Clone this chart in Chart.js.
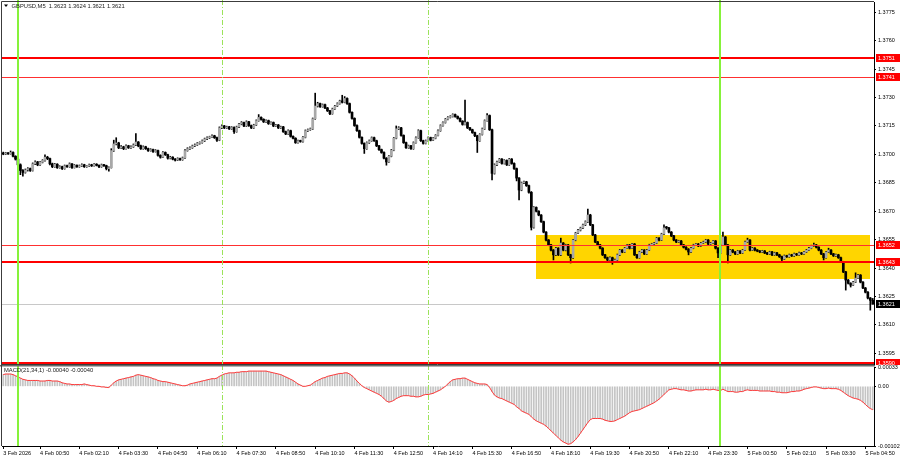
<!DOCTYPE html>
<html><head><meta charset="utf-8">
<script src="https://cdn.jsdelivr.net/npm/chart.js@4.4.1/dist/chart.umd.min.js"></script>
<style>
html,body{margin:0;padding:0;background:#fff;}
#wrap{position:relative;width:900px;height:460px;overflow:hidden;background:#fff;}
canvas{position:absolute;left:0;}
</style></head><body>
<div id="wrap">
<canvas id="main" width="900" height="365" style="top:0;width:900px;height:365px"></canvas>
<canvas id="macd" width="900" height="95" style="top:365px;width:900px;height:95px"></canvas>
</div>
<script>
// ---- DATA (GBPUSD M5, one entry per bar) ----
const openPrices = [
1.37005,1.37002,1.37008,1.37003,1.37010,1.36990,1.36975,1.36945,1.36915,1.36905,
1.36918,1.36925,1.36915,1.36950,1.36960,1.36945,1.36958,1.36968,1.36985,1.36978,
1.36950,1.36935,1.36948,1.36930,1.36935,1.36925,1.36940,1.36935,1.36950,1.36930,
1.36942,1.36935,1.36940,1.36945,1.36935,1.36938,1.36945,1.36940,1.36948,1.36942,
1.36935,1.36945,1.36940,1.36925,1.36930,1.37020,1.37055,1.37060,1.37035,1.37040,
1.37030,1.37045,1.37035,1.37040,1.37050,1.37065,1.37045,1.37030,1.37040,1.37030,
1.37020,1.37025,1.37015,1.37020,1.36995,1.36985,1.37010,1.36998,1.36980,1.36985,
1.36975,1.36970,1.36978,1.36972,1.36982,1.37020,1.37030,1.37035,1.37045,1.37050,
1.37058,1.37062,1.37072,1.37082,1.37088,1.37092,1.37098,1.37088,1.37075,1.37140,
1.37150,1.37140,1.37145,1.37135,1.37142,1.37120,1.37145,1.37160,1.37168,1.37150,
1.37172,1.37152,1.37140,1.37155,1.37178,1.37195,1.37185,1.37172,1.37178,1.37162,
1.37168,1.37150,1.37155,1.37140,1.37145,1.37120,1.37108,1.37125,1.37095,1.37085,
1.37062,1.37072,1.37068,1.37090,1.37125,1.37130,1.37135,1.37188,1.37255,1.37268,
1.37252,1.37262,1.37245,1.37230,1.37215,1.37240,1.37255,1.37268,1.37282,1.37275,
1.37295,1.37268,1.37222,1.37190,1.37152,1.37125,1.37090,1.37058,1.37030,1.37062,
1.37072,1.37088,1.37072,1.37045,1.37025,1.37010,1.36980,1.36960,1.36990,1.37022,
1.37085,1.37135,1.37140,1.37100,1.37062,1.37035,1.37045,1.37030,1.37062,1.37088,
1.37125,1.37072,1.37058,1.37072,1.37088,1.37075,1.37085,1.37100,1.37125,1.37152,
1.37168,1.37185,1.37195,1.37200,1.37210,1.37200,1.37190,1.37175,1.37158,1.37168,
1.37140,1.37130,1.37115,1.37098,1.37072,1.37105,1.37135,1.37178,1.37205,1.37130,
1.36900,1.36945,1.36960,1.36975,1.36952,1.36968,1.36945,1.36975,1.36952,1.36925,
1.36875,1.36812,1.36850,1.36855,1.36835,1.36800,1.36615,1.36720,1.36700,1.36680,
1.36645,1.36590,1.36548,1.36522,1.36495,1.36470,1.36505,1.36470,1.36532,1.36495,
1.36522,1.36470,1.36455,1.36548,1.36585,1.36600,1.36612,1.36628,1.36645,1.36680,
1.36628,1.36575,1.36538,1.36522,1.36505,1.36470,1.36455,1.36443,1.36455,1.36433,
1.36443,1.36470,1.36495,1.36485,1.36505,1.36522,1.36505,1.36527,1.36470,1.36455,
1.36485,1.36495,1.36475,1.36495,1.36522,1.36527,1.36532,1.36558,1.36548,1.36580,
1.36612,1.36612,1.36590,1.36570,1.36548,1.36538,1.36543,1.36522,1.36510,1.36500,
1.36485,1.36505,1.36522,1.36527,1.36517,1.36532,1.36538,1.36548,1.36527,1.36532,
1.36543,1.36505,1.36480,1.36522,1.36564,1.36522,1.36470,1.36495,1.36485,1.36475,
1.36490,1.36480,1.36495,1.36538,1.36548,1.36495,1.36505,1.36495,1.36490,1.36485,
1.36490,1.36480,1.36475,1.36485,1.36470,1.36480,1.36470,1.36460,1.36448,1.36465,
1.36460,1.36470,1.36465,1.36475,1.36470,1.36480,1.36475,1.36485,1.36495,1.36505,
1.36517,1.36522,1.36510,1.36495,1.36475,1.36455,1.36485,1.36495,1.36475,1.36465,
1.36470,1.36455,1.36433,1.36380,1.36337,1.36320,1.36310,1.36326,1.36347,1.36363,
1.36326,1.36295,1.36273,1.36242,1.36230];
const highPrices = [
1.37012,1.37011,1.37010,1.37018,1.37013,1.36993,1.36978,1.36950,1.36920,1.36923,
1.36930,1.36928,1.36955,1.36966,1.36963,1.36962,1.36972,1.36997,1.36990,1.36981,
1.36954,1.36952,1.36951,1.36940,1.36938,1.36944,1.36943,1.36955,1.36952,1.36946,
1.36945,1.36944,1.36950,1.36948,1.36942,1.36949,1.36948,1.36952,1.36951,1.36945,
1.36949,1.36947,1.36943,1.36934,1.37030,1.37075,1.37088,1.37064,1.37046,1.37043,
1.37050,1.37048,1.37045,1.37055,1.37110,1.37068,1.37049,1.37045,1.37043,1.37033,
1.37030,1.37028,1.37025,1.37023,1.36998,1.37015,1.37013,1.37001,1.36990,1.36988,
1.36978,1.36982,1.36981,1.36986,1.37025,1.37035,1.37040,1.37049,1.37055,1.37062,
1.37066,1.37076,1.37086,1.37092,1.37096,1.37103,1.37101,1.37091,1.37145,1.37156,
1.37153,1.37149,1.37148,1.37146,1.37145,1.37149,1.37164,1.37173,1.37171,1.37177,
1.37175,1.37155,1.37159,1.37182,1.37210,1.37198,1.37188,1.37182,1.37181,1.37172,
1.37171,1.37159,1.37158,1.37149,1.37148,1.37123,1.37129,1.37128,1.37098,1.37088,
1.37076,1.37075,1.37094,1.37129,1.37134,1.37139,1.37192,1.37323,1.37275,1.37271,
1.37266,1.37265,1.37248,1.37233,1.37244,1.37259,1.37272,1.37286,1.37312,1.37305,
1.37298,1.37271,1.37225,1.37193,1.37156,1.37128,1.37093,1.37061,1.37066,1.37076,
1.37092,1.37091,1.37075,1.37048,1.37028,1.37013,1.36983,1.36994,1.37026,1.37089,
1.37150,1.37146,1.37143,1.37103,1.37065,1.37049,1.37048,1.37066,1.37092,1.37130,
1.37128,1.37075,1.37076,1.37092,1.37091,1.37089,1.37104,1.37129,1.37156,1.37172,
1.37189,1.37199,1.37204,1.37214,1.37213,1.37203,1.37193,1.37178,1.37287,1.37171,
1.37143,1.37133,1.37118,1.37101,1.37109,1.37139,1.37182,1.37215,1.37208,1.37133,
1.36950,1.36964,1.36979,1.36978,1.36972,1.36971,1.36979,1.36978,1.36955,1.36928,
1.36878,1.36854,1.36859,1.36858,1.36838,1.36804,1.36724,1.36723,1.36703,1.36683,
1.36648,1.36593,1.36551,1.36525,1.36498,1.36509,1.36508,1.36558,1.36535,1.36526,
1.36525,1.36473,1.36552,1.36589,1.36604,1.36616,1.36632,1.36649,1.36712,1.36684,
1.36631,1.36578,1.36541,1.36525,1.36508,1.36473,1.36458,1.36459,1.36458,1.36447,
1.36474,1.36499,1.36498,1.36509,1.36526,1.36525,1.36531,1.36530,1.36473,1.36489,
1.36499,1.36498,1.36499,1.36526,1.36531,1.36536,1.36562,1.36561,1.36584,1.36628,
1.36620,1.36615,1.36593,1.36573,1.36551,1.36547,1.36546,1.36525,1.36513,1.36503,
1.36509,1.36526,1.36531,1.36530,1.36536,1.36542,1.36552,1.36551,1.36536,1.36547,
1.36546,1.36508,1.36526,1.36590,1.36567,1.36525,1.36499,1.36498,1.36488,1.36494,
1.36493,1.36499,1.36542,1.36558,1.36551,1.36509,1.36508,1.36498,1.36493,1.36494,
1.36493,1.36483,1.36489,1.36488,1.36484,1.36483,1.36473,1.36463,1.36469,1.36468,
1.36474,1.36473,1.36479,1.36478,1.36484,1.36483,1.36489,1.36499,1.36509,1.36521,
1.36532,1.36525,1.36513,1.36498,1.36478,1.36489,1.36505,1.36498,1.36478,1.36474,
1.36473,1.36458,1.36436,1.36383,1.36340,1.36323,1.36330,1.36375,1.36367,1.36366,
1.36329,1.36298,1.36276,1.36245,1.36240];
const lowPrices = [
1.36998,1.36999,1.37000,1.37001,1.36986,1.36970,1.36940,1.36893,1.36885,1.36901,
1.36912,1.36910,1.36912,1.36946,1.36940,1.36942,1.36955,1.36964,1.36972,1.36945,
1.36930,1.36932,1.36926,1.36927,1.36920,1.36922,1.36931,1.36932,1.36926,1.36928,
1.36931,1.36932,1.36937,1.36931,1.36932,1.36935,1.36936,1.36938,1.36939,1.36930,
1.36932,1.36936,1.36918,1.36912,1.36928,1.37016,1.37050,1.37030,1.37031,1.37025,
1.37027,1.37031,1.37032,1.37037,1.37046,1.37040,1.37026,1.37027,1.37026,1.37015,
1.37017,1.37010,1.37012,1.36990,1.36980,1.36982,1.36994,1.36975,1.36976,1.36971,
1.36965,1.36967,1.36968,1.36969,1.36979,1.37017,1.37026,1.37032,1.37041,1.37047,
1.37054,1.37059,1.37068,1.37078,1.37084,1.37089,1.37084,1.37068,1.37072,1.37136,
1.37136,1.37137,1.37131,1.37132,1.37110,1.37117,1.37141,1.37156,1.37146,1.37147,
1.37148,1.37136,1.37137,1.37152,1.37175,1.37181,1.37168,1.37169,1.37158,1.37159,
1.37146,1.37147,1.37136,1.37137,1.37116,1.37104,1.37105,1.37091,1.37081,1.37058,
1.37059,1.37064,1.37065,1.37087,1.37121,1.37127,1.37132,1.37185,1.37250,1.37248,
1.37249,1.37241,1.37226,1.37210,1.37212,1.37237,1.37252,1.37265,1.37271,1.37272,
1.37264,1.37218,1.37186,1.37148,1.37121,1.37086,1.37054,1.37005,1.37027,1.37058,
1.37069,1.37068,1.37041,1.37021,1.37006,1.36976,1.36943,1.36957,1.36987,1.37019,
1.37082,1.37131,1.37096,1.37058,1.37031,1.37032,1.37026,1.37027,1.37059,1.37085,
1.37068,1.37054,1.37055,1.37069,1.37071,1.37072,1.37082,1.37097,1.37122,1.37149,
1.37165,1.37182,1.37192,1.37197,1.37196,1.37186,1.37171,1.37154,1.37155,1.37136,
1.37126,1.37111,1.37094,1.37010,1.37069,1.37102,1.37132,1.37175,1.37126,1.36865,
1.36896,1.36941,1.36957,1.36948,1.36949,1.36941,1.36942,1.36948,1.36921,1.36860,
1.36760,1.36808,1.36846,1.36831,1.36796,1.36601,1.36611,1.36696,1.36676,1.36641,
1.36586,1.36544,1.36518,1.36491,1.36443,1.36466,1.36466,1.36466,1.36491,1.36491,
1.36466,1.36427,1.36451,1.36544,1.36581,1.36596,1.36608,1.36624,1.36641,1.36624,
1.36571,1.36534,1.36518,1.36501,1.36466,1.36451,1.36439,1.36440,1.36420,1.36430,
1.36440,1.36466,1.36481,1.36482,1.36502,1.36501,1.36502,1.36466,1.36451,1.36452,
1.36482,1.36471,1.36472,1.36492,1.36519,1.36524,1.36529,1.36544,1.36545,1.36577,
1.36605,1.36586,1.36566,1.36544,1.36534,1.36535,1.36518,1.36506,1.36496,1.36470,
1.36482,1.36502,1.36519,1.36513,1.36514,1.36529,1.36535,1.36523,1.36524,1.36529,
1.36501,1.36455,1.36477,1.36519,1.36518,1.36427,1.36467,1.36481,1.36471,1.36472,
1.36476,1.36477,1.36492,1.36535,1.36491,1.36492,1.36491,1.36486,1.36481,1.36482,
1.36476,1.36471,1.36472,1.36466,1.36467,1.36466,1.36456,1.36438,1.36445,1.36456,
1.36457,1.36461,1.36462,1.36466,1.36467,1.36471,1.36472,1.36482,1.36492,1.36502,
1.36514,1.36506,1.36491,1.36471,1.36443,1.36452,1.36482,1.36471,1.36461,1.36462,
1.36451,1.36429,1.36376,1.36284,1.36316,1.36300,1.36307,1.36323,1.36344,1.36322,
1.36291,1.36269,1.36238,1.36178,1.36210];
const closePrices = [
1.37002,1.37008,1.37003,1.37010,1.36990,1.36975,1.36945,1.36915,1.36905,1.36918,
1.36925,1.36915,1.36950,1.36960,1.36945,1.36958,1.36968,1.36985,1.36978,1.36950,
1.36935,1.36948,1.36930,1.36935,1.36925,1.36940,1.36935,1.36950,1.36930,1.36942,
1.36935,1.36940,1.36945,1.36935,1.36938,1.36945,1.36940,1.36948,1.36942,1.36935,
1.36945,1.36940,1.36925,1.36930,1.37020,1.37055,1.37060,1.37035,1.37040,1.37030,
1.37045,1.37035,1.37040,1.37050,1.37065,1.37045,1.37030,1.37040,1.37030,1.37020,
1.37025,1.37015,1.37020,1.36995,1.36985,1.37010,1.36998,1.36980,1.36985,1.36975,
1.36970,1.36978,1.36972,1.36982,1.37020,1.37030,1.37035,1.37045,1.37050,1.37058,
1.37062,1.37072,1.37082,1.37088,1.37092,1.37098,1.37088,1.37075,1.37140,1.37150,
1.37140,1.37145,1.37135,1.37142,1.37120,1.37145,1.37160,1.37168,1.37150,1.37172,
1.37152,1.37140,1.37155,1.37178,1.37195,1.37185,1.37172,1.37178,1.37162,1.37168,
1.37150,1.37155,1.37140,1.37145,1.37120,1.37108,1.37125,1.37095,1.37085,1.37062,
1.37072,1.37068,1.37090,1.37125,1.37130,1.37135,1.37188,1.37255,1.37268,1.37252,
1.37262,1.37245,1.37230,1.37215,1.37240,1.37255,1.37268,1.37282,1.37275,1.37295,
1.37268,1.37222,1.37190,1.37152,1.37125,1.37090,1.37058,1.37030,1.37062,1.37072,
1.37088,1.37072,1.37045,1.37025,1.37010,1.36980,1.36960,1.36990,1.37022,1.37085,
1.37135,1.37140,1.37100,1.37062,1.37035,1.37045,1.37030,1.37062,1.37088,1.37125,
1.37072,1.37058,1.37072,1.37088,1.37075,1.37085,1.37100,1.37125,1.37152,1.37168,
1.37185,1.37195,1.37200,1.37210,1.37200,1.37190,1.37175,1.37158,1.37168,1.37140,
1.37130,1.37115,1.37098,1.37072,1.37105,1.37135,1.37178,1.37205,1.37130,1.36900,
1.36945,1.36960,1.36975,1.36952,1.36968,1.36945,1.36975,1.36952,1.36925,1.36875,
1.36812,1.36850,1.36855,1.36835,1.36800,1.36615,1.36720,1.36700,1.36680,1.36645,
1.36590,1.36548,1.36522,1.36495,1.36470,1.36505,1.36470,1.36532,1.36495,1.36522,
1.36470,1.36455,1.36548,1.36585,1.36600,1.36612,1.36628,1.36645,1.36680,1.36628,
1.36575,1.36538,1.36522,1.36505,1.36470,1.36455,1.36443,1.36455,1.36433,1.36443,
1.36470,1.36495,1.36485,1.36505,1.36522,1.36505,1.36527,1.36470,1.36455,1.36485,
1.36495,1.36475,1.36495,1.36522,1.36527,1.36532,1.36558,1.36548,1.36580,1.36612,
1.36612,1.36590,1.36570,1.36548,1.36538,1.36543,1.36522,1.36510,1.36500,1.36485,
1.36505,1.36522,1.36527,1.36517,1.36532,1.36538,1.36548,1.36527,1.36532,1.36543,
1.36505,1.36480,1.36522,1.36564,1.36522,1.36470,1.36495,1.36485,1.36475,1.36490,
1.36480,1.36495,1.36538,1.36548,1.36495,1.36505,1.36495,1.36490,1.36485,1.36490,
1.36480,1.36475,1.36485,1.36470,1.36480,1.36470,1.36460,1.36448,1.36465,1.36460,
1.36470,1.36465,1.36475,1.36470,1.36480,1.36475,1.36485,1.36495,1.36505,1.36517,
1.36522,1.36510,1.36495,1.36475,1.36455,1.36485,1.36495,1.36475,1.36465,1.36470,
1.36455,1.36433,1.36380,1.36337,1.36320,1.36310,1.36326,1.36347,1.36363,1.36326,
1.36295,1.36273,1.36242,1.36230,1.36210];
// MACD(21,34,1) main value per bar (signal SMA(1) equals it)
const macdValues = [
0.00020,0.00021,0.00021,0.00021,0.00020,0.00018,0.00016,0.00014,0.00012,0.00011,
0.00010,0.00010,0.00010,0.00010,0.00010,0.00009,0.00009,0.00009,0.00010,0.00010,
0.00009,0.00009,0.00009,0.00008,0.00006,0.00005,0.00004,0.00004,0.00003,0.00003,
0.00003,0.00003,0.00003,0.00004,0.00003,0.00002,0.00001,0.00001,0,0,
-0.00001,-0.00001,-0.00002,-0.00002,0.00002,0.00006,0.00009,0.00011,0.00012,0.00013,
0.00014,0.00015,0.00016,0.00017,0.00019,0.00020,0.00019,0.00018,0.00017,0.00016,
0.00015,0.00013,0.00012,0.00010,0.00009,0.00008,0.00008,0.00007,0.00006,0.00005,
0.00004,0.00003,0.00002,0.00001,0.00001,0.00002,0.00004,0.00005,0.00006,0.00007,
0.00008,0.00009,0.00010,0.00011,0.00012,0.00013,0.00013,0.00014,0.00017,0.00019,
0.00021,0.00022,0.00023,0.00023,0.00023,0.00024,0.00024,0.00025,0.00025,0.00025,
0.00026,0.00026,0.00026,0.00026,0.00026,0.00026,0.00026,0.00026,0.00025,0.00024,
0.00023,0.00022,0.00021,0.00020,0.00018,0.00016,0.00014,0.00012,0.00010,0.00007,
0.00004,0.00002,0,0,0.00001,0.00002,0.00005,0.00008,0.00010,0.00012,
0.00014,0.00015,0.00017,0.00018,0.00019,0.00020,0.00021,0.00022,0.00022,0.00023,
0.00023,0.00021,0.00018,0.00014,0.00009,0.00005,0.00001,-0.00002,-0.00004,-0.00006,
-0.00008,-0.00010,-0.00012,-0.00014,-0.00017,-0.00021,-0.00025,-0.00027,-0.00026,-0.00024,
-0.00021,-0.00019,-0.00017,-0.00016,-0.00016,-0.00016,-0.00017,-0.00017,-0.00018,-0.00018,
-0.00017,-0.00015,-0.00014,-0.00014,-0.00013,-0.00012,-0.00010,-0.00008,-0.00006,-0.00003,
0,0.00004,0.00008,0.00011,0.00012,0.00013,0.00013,0.00014,0.00014,0.00012,
0.00010,0.00008,0.00006,0.00005,0.00004,0.00004,0.00004,0.00003,-0.00002,-0.00009,
-0.00015,-0.00018,-0.00020,-0.00021,-0.00023,-0.00025,-0.00027,-0.00029,-0.00031,-0.00035,
-0.00038,-0.00042,-0.00044,-0.00046,-0.00048,-0.00052,-0.00056,-0.00059,-0.00061,-0.00063,
-0.00065,-0.00068,-0.00072,-0.00076,-0.00080,-0.00084,-0.00088,-0.00092,-0.00095,-0.00097,
-0.00099,-0.00098,-0.00095,-0.00091,-0.00086,-0.00080,-0.00074,-0.00068,-0.00062,-0.00057,
-0.00055,-0.00055,-0.00055,-0.00055,-0.00056,-0.00058,-0.00059,-0.00060,-0.00060,-0.00059,
-0.00057,-0.00055,-0.00053,-0.00051,-0.00048,-0.00045,-0.00043,-0.00042,-0.00041,-0.00040,
-0.00038,-0.00036,-0.00034,-0.00032,-0.00030,-0.00028,-0.00025,-0.00022,-0.00018,-0.00014,
-0.00010,-0.00006,-0.00005,-0.00004,-0.00004,-0.00005,-0.00006,-0.00006,-0.00007,-0.00008,
-0.00008,-0.00007,-0.00006,-0.00006,-0.00006,-0.00006,-0.00005,-0.00006,-0.00006,-0.00005,
-0.00006,-0.00007,-0.00007,-0.00005,-0.00007,-0.00009,-0.00009,-0.00009,-0.00010,-0.00010,
-0.00009,-0.00009,-0.00007,-0.00006,-0.00007,-0.00007,-0.00007,-0.00007,-0.00008,-0.00008,
-0.00008,-0.00008,-0.00008,-0.00009,-0.00009,-0.00010,-0.00010,-0.00011,-0.00011,-0.00011,
-0.00010,-0.00009,-0.00009,-0.00008,-0.00008,-0.00007,-0.00005,-0.00004,-0.00003,-0.00002,
-0.00001,-0.00001,-0.00002,-0.00003,-0.00004,-0.00004,-0.00003,-0.00004,-0.00004,-0.00004,
-0.00005,-0.00007,-0.00010,-0.00013,-0.00016,-0.00018,-0.00020,-0.00021,-0.00022,-0.00024,
-0.00027,-0.00031,-0.00035,-0.00038,-0.00040];

const timeTicks = ['3 Feb 2026','4 Feb 00:50','4 Feb 02:10','4 Feb 03:30','4 Feb 04:50','4 Feb 06:10','4 Feb 07:30','4 Feb 08:50','4 Feb 10:10','4 Feb 11:30','4 Feb 12:50','4 Feb 14:10','4 Feb 15:30','4 Feb 16:50','4 Feb 18:10','4 Feb 19:30','4 Feb 20:50','4 Feb 22:10','4 Feb 23:30','5 Feb 00:50','5 Feb 02:10','5 Feb 03:30','5 Feb 04:50'];
const timeTickBars = [0,15,31,47,63,79,95,111,127,143,159,175,191,207,223,239,255,271,287,303,319,335,351];
const priceTicks = [1.3775,1.3760,1.3745,1.3730,1.3715,1.3700,1.3685,1.3670,1.3655,1.3640,1.3625,1.3610,1.3595];
const priceRange = [1.35894, 1.37804];
const macdTicks = [0.00033, 0, -0.00102];
const macdRange = [-0.00102, 0.00033];
const levelPrices = [1.3751, 1.3741, 1.3652, 1.3643, 1.3590];
const levelWidths = [2, 1, 1, 2, 2];
const currentPrice = closePrices[closePrices.length - 1];
const zonePrices = [1.36575, 1.36343];
const zoneBars = [217, 353];
const solidLineBars = [6, 292];
const dashLineBars = [89, 173];

// ---- RENDERING ----
Chart.defaults.font.family = '"Liberation Sans", Arial, sans-serif';
Chart.defaults.color = '#000';
const AXIS_FONT = {size: 5.5};
const barIdx = closePrices.map((_, i) => i);
const fmt4 = v => v.toFixed(4);

function drawVerticals(chart, y0, y1) {
  const {ctx, scales: {x}} = chart;
  ctx.save();
  solidLineBars.forEach(b => {
    const px = Math.round(x.getPixelForValue(b));
    ctx.strokeStyle = '#86f23a'; ctx.lineWidth = 2; ctx.setLineDash([]);
    ctx.beginPath(); ctx.moveTo(px, y0); ctx.lineTo(px, y1); ctx.stroke();
  });
  dashLineBars.forEach(b => {
    const px = Math.round(x.getPixelForValue(b)) + 0.5;
    ctx.strokeStyle = '#9be35a'; ctx.lineWidth = 1; ctx.setLineDash([5, 2, 1, 2]);
    ctx.beginPath(); ctx.moveTo(px, y0); ctx.lineTo(px, y1); ctx.stroke();
  });
  ctx.restore();
}

const mainDecor = {
  id: 'mainDecor',
  beforeDatasetsDraw(chart) {
    const {ctx, chartArea: a, scales: {x, y}} = chart;
    ctx.save();
    ctx.beginPath(); ctx.rect(a.left, a.top, a.right - a.left, a.bottom - a.top); ctx.clip();
    const zx1 = x.getPixelForValue(zoneBars[0]), zx2 = x.getPixelForValue(zoneBars[1]);
    const zy1 = y.getPixelForValue(zonePrices[0]), zy2 = y.getPixelForValue(zonePrices[1]);
    ctx.fillStyle = '#ffd500';
    ctx.fillRect(Math.round(zx1), Math.round(zy1), Math.round(zx2 - zx1), Math.round(zy2 - zy1));
    const cy = Math.round(y.getPixelForValue(currentPrice)) + 0.5;
    ctx.strokeStyle = '#c8c8c8'; ctx.lineWidth = 1;
    ctx.beginPath(); ctx.moveTo(a.left, cy); ctx.lineTo(a.right, cy); ctx.stroke();
    ctx.restore();
  },
  afterDatasetsDraw(chart) {
    const {ctx, chartArea: a, scales: {y}} = chart;
    ctx.save();
    ctx.beginPath(); ctx.rect(a.left, a.top, a.right - a.left, a.bottom - a.top); ctx.clip();
    levelPrices.forEach((p, k) => {
      const w = levelWidths[k];
      const py = w === 1 ? Math.round(y.getPixelForValue(p)) + 0.5 : Math.round(y.getPixelForValue(p));
      ctx.strokeStyle = w === 1 ? '#ff3030' : '#ff0000'; ctx.lineWidth = w;
      ctx.beginPath(); ctx.moveTo(a.left, py); ctx.lineTo(a.right, py); ctx.stroke();
    });
    ctx.restore();
    drawVerticals(chart, 0, chart.height);
  },
  afterDraw(chart) {
    const {ctx, chartArea: a, scales: {y}} = chart;
    ctx.save();
    // frame
    ctx.strokeStyle = '#3c3c3c'; ctx.lineWidth = 1;
    ctx.beginPath();
    ctx.moveTo(a.left - 0.5, a.bottom); ctx.lineTo(a.left - 0.5, a.top - 0.5); ctx.lineTo(a.right, a.top - 0.5);
    ctx.stroke();
    ctx.beginPath(); ctx.moveTo(a.left - 1, a.bottom + 0.5); ctx.lineTo(a.right, a.bottom + 0.5); ctx.stroke();
    // price tags
    ctx.font = '5.5px "Liberation Sans", Arial, sans-serif';
    ctx.textBaseline = 'middle'; ctx.textAlign = 'left';
    const tag = (p, bg) => {
      const ty = Math.round(y.getPixelForValue(p));
      ctx.fillStyle = bg; ctx.fillRect(a.right + 2, ty - 4, 24, 8);
      ctx.fillStyle = '#fff'; ctx.fillText(fmt4(p), a.right + 4, ty + 0.5);
    };
    levelPrices.forEach(p => tag(p, '#ff0000'));
    tag(currentPrice, '#000');
    // title
    ctx.fillStyle = '#000';
    ctx.beginPath(); ctx.moveTo(4, 4.5); ctx.lineTo(8, 4.5); ctx.lineTo(6, 7); ctx.closePath(); ctx.fill();
    const n = closePrices.length - 1;
    ctx.fillStyle = '#222';
    ctx.font = '5.8px "Liberation Sans", Arial, sans-serif';
    ctx.fillText('GBPUSD,M5  ' + [openPrices[n], highPrices[n], lowPrices[n], closePrices[n]].map(fmt4).join(' '), 11.5, 6.5);
    ctx.restore();
  }
};

const macdDecor = {
  id: 'macdDecor',
  afterDatasetsDraw(chart) {
    drawVerticals(chart, 0, chart.chartArea.bottom);
  },
  afterDraw(chart) {
    const {ctx, chartArea: a} = chart;
    ctx.save();
    ctx.fillStyle = '#6a6a6a';
    ctx.fillRect(0, 0, a.right + 1, 1.5);
    ctx.strokeStyle = '#3c3c3c'; ctx.lineWidth = 1;
    ctx.beginPath();
    ctx.moveTo(a.left - 0.5, a.bottom); ctx.lineTo(a.left - 0.5, 0);
    ctx.stroke();
    const n = macdValues.length - 1;
    ctx.fillStyle = '#222';
    ctx.font = '5.8px "Liberation Sans", Arial, sans-serif';
    ctx.textBaseline = 'middle';
    ctx.fillText('MACD(21,34,1) ' + macdValues[n].toFixed(5) + ' ' + macdValues[n].toFixed(5), 4, 5.5);
    ctx.restore();
  }
};

new Chart(document.getElementById('main'), {
  type: 'bar',
  data: {
    labels: barIdx,
    datasets: [
      { data: openPrices.map((o, i) => [o, closePrices[i]]),
        backgroundColor: openPrices.map((o, i) => closePrices[i] > o ? '#a8a8a8' : '#000'),
        barThickness: 2, minBarLength: 1, grouped: false, order: 0, borderWidth: 0 },
      { data: lowPrices.map((l, i) => [l, highPrices[i]]),
        backgroundColor: '#000', barThickness: 1, grouped: false, order: 1, borderWidth: 0 }
    ]
  },
  options: {
    responsive: false, animation: false, devicePixelRatio: 1,
    layout: {padding: {left: 2, top: 2, right: 0, bottom: 1}},
    plugins: {legend: {display: false}, tooltip: {enabled: false}},
    scales: {
      x: {display: false, offset: true},
      y: {
        position: 'right', min: priceRange[0], max: priceRange[1],
        afterBuildTicks: s => { s.ticks = priceTicks.map(v => ({value: v})); },
        afterFit: s => { s.width = 26; s.paddingTop = 0; s.paddingBottom = 0; },
        ticks: {callback: v => fmt4(v), font: AXIS_FONT, padding: 2, color: '#000'},
        grid: {drawOnChartArea: false, drawTicks: true, tickLength: 2, color: '#000'},
        border: {display: true, color: '#000'}
      }
    }
  },
  plugins: [mainDecor]
});

new Chart(document.getElementById('macd'), {
  type: 'bar',
  data: {
    labels: barIdx,
    datasets: [
      { type: 'line', data: macdValues, borderColor: '#ff3a3a', borderWidth: 1, pointRadius: 0, tension: 0, order: 0 },
      { data: macdValues, backgroundColor: '#c4c4c4', barThickness: 1, grouped: false, order: 1, borderWidth: 0 }
    ]
  },
  options: {
    responsive: false, animation: false, devicePixelRatio: 1,
    layout: {padding: {left: 2, top: 2, right: 0, bottom: 0}},
    plugins: {legend: {display: false}, tooltip: {enabled: false}},
    scales: {
      x: {
        offset: true,
        afterBuildTicks: s => { s.ticks = timeTickBars.map(v => ({value: v})); },
        afterFit: s => { s.height = 14; s.paddingLeft = 0; s.paddingRight = 0; },
        ticks: {autoSkip: false, maxRotation: 0, minRotation: 0, align: 'start', padding: 1, font: AXIS_FONT, color: '#000',
          callback: v => timeTicks[timeTickBars.indexOf(v)]},
        grid: {drawOnChartArea: false, drawTicks: true, tickLength: 3, color: '#000', offset: false},
        border: {display: true, color: '#000'}
      },
      y: {
        position: 'right', min: macdRange[0], max: macdRange[1],
        afterBuildTicks: s => { s.ticks = macdTicks.map(v => ({value: v})); },
        afterFit: s => { s.width = 26; s.paddingTop = 0; s.paddingBottom = 0; },
        ticks: {callback: v => v === 0 ? '0.00' : v.toFixed(5), font: AXIS_FONT, padding: 2, color: '#000'},
        grid: {drawOnChartArea: false, drawTicks: true, tickLength: 2, color: '#000'},
        border: {display: true, color: '#000'}
      }
    }
  },
  plugins: [macdDecor]
});
</script>
</body></html>
